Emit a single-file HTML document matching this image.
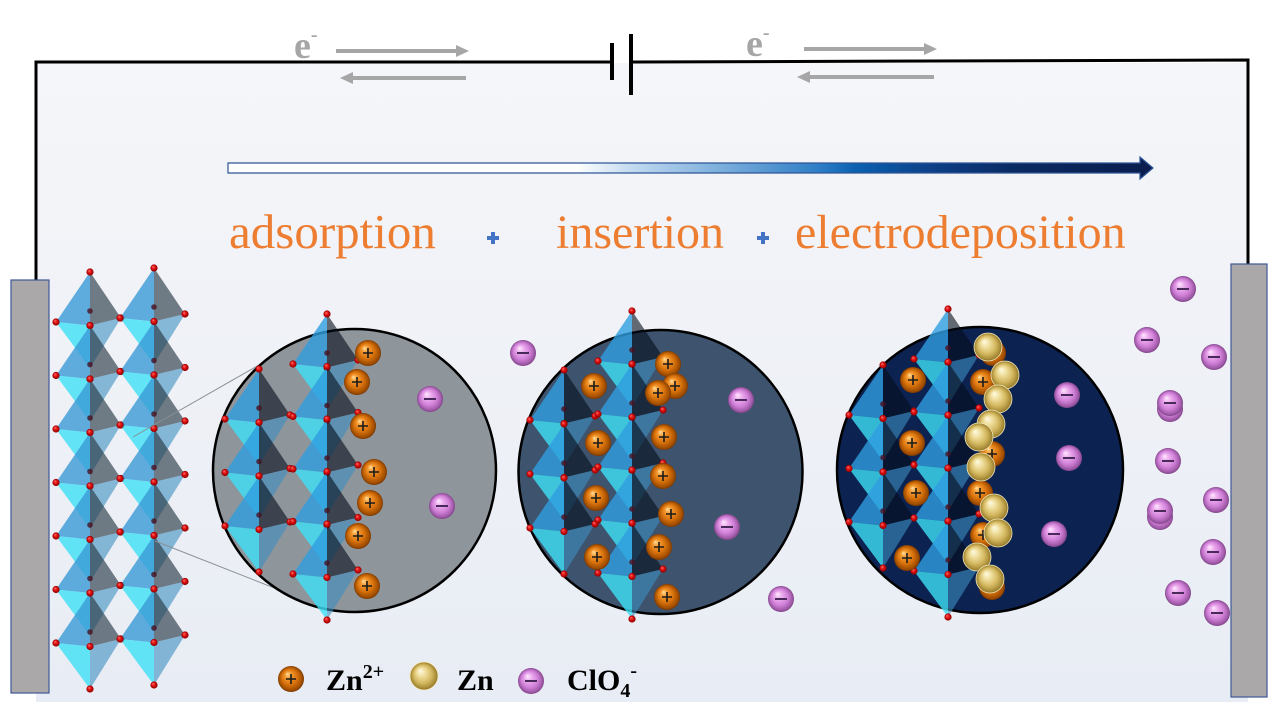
<!DOCTYPE html>
<html><head><meta charset="utf-8"><style>
html,body{margin:0;padding:0;background:#fff;}
svg{display:block;}
</style></head><body>
<svg width="1269" height="719" viewBox="0 0 1269 719" xmlns="http://www.w3.org/2000/svg">
<defs>
<linearGradient id="bg" x1="0" y1="0" x2="0" y2="1">
<stop offset="0" stop-color="#f5f6f9"/><stop offset="1" stop-color="#e8ecf4"/>
</linearGradient>
<linearGradient id="arr" x1="0" y1="0" x2="1" y2="0">
<stop offset="0" stop-color="#ffffff"/><stop offset="0.376" stop-color="#ffffff"/>
<stop offset="0.444" stop-color="#bcd6ee"/><stop offset="0.551" stop-color="#6fa6d8"/>
<stop offset="0.637" stop-color="#2f7fc6"/><stop offset="0.679" stop-color="#0a60b0"/>
<stop offset="0.764" stop-color="#0d3f86"/><stop offset="0.85" stop-color="#0a2a62"/>
<stop offset="1" stop-color="#0a1c4c"/>
</linearGradient>
<radialGradient id="gOr" cx="0.5" cy="0.5" r="0.5" fx="0.36" fy="0.3">
<stop offset="0" stop-color="#ffe0a0"/><stop offset="0.25" stop-color="#f59a30"/>
<stop offset="0.6" stop-color="#d8720c"/><stop offset="0.9" stop-color="#a04d00"/>
<stop offset="1" stop-color="#7a3800"/>
</radialGradient>
<radialGradient id="gAu" cx="0.5" cy="0.5" r="0.5" fx="0.36" fy="0.3">
<stop offset="0" stop-color="#fffbe6"/><stop offset="0.3" stop-color="#f0e0a0"/>
<stop offset="0.65" stop-color="#d4b860"/><stop offset="0.9" stop-color="#a88c38"/>
<stop offset="1" stop-color="#8a7028"/>
</radialGradient>
<radialGradient id="gPk" cx="0.5" cy="0.5" r="0.5" fx="0.36" fy="0.3">
<stop offset="0" stop-color="#fdeafd"/><stop offset="0.3" stop-color="#ecaaee"/>
<stop offset="0.65" stop-color="#cf7fd6"/><stop offset="0.9" stop-color="#a05aa8"/>
<stop offset="1" stop-color="#804488"/>
</radialGradient>
<radialGradient id="gRed" cx="0.5" cy="0.5" r="0.5" fx="0.35" fy="0.3">
<stop offset="0" stop-color="#ff7070"/><stop offset="0.5" stop-color="#e01010"/>
<stop offset="1" stop-color="#8a0000"/>
</radialGradient>
<g id="dot"><circle r="3.6" fill="url(#gRed)"/></g>
<g id="oct">
<polygon points="0,0 -34,50 0,53.5" fill="#3a9ad6" fill-opacity="0.8"/>
<polygon points="0,0 0,53.5 31,46" fill="#2a3a46" fill-opacity="0.65"/>
<polygon points="-34,50 0,53.5 0,96" fill="#3fe0f6" fill-opacity="0.8"/>
<polygon points="0,53.5 31,46 0,96" fill="#3d8fbf" fill-opacity="0.6"/>
<circle cx="0" cy="39" r="2.8" fill="#4a1020" fill-opacity="0.8"/>
<circle cx="0" cy="0" r="3.6" fill="url(#gRed)"/>
<circle cx="-34" cy="50" r="3.6" fill="url(#gRed)"/>
<circle cx="31" cy="46" r="3.6" fill="url(#gRed)"/>
<circle cx="0" cy="53.5" r="3.6" fill="url(#gRed)"/>
</g>
<g id="octc">
<polygon points="0,0 -34,50 0,53.5" fill="#2f9ee0" fill-opacity="0.8"/>
<polygon points="0,0 0,53.5 31,46" fill="#050d1a" fill-opacity="0.6"/>
<polygon points="-34,50 0,53.5 0,96" fill="#3fe0f6" fill-opacity="0.8"/>
<polygon points="0,53.5 31,46 0,96" fill="#3d8fbf" fill-opacity="0.6"/>
<circle cx="0" cy="39" r="2.8" fill="#4a1020" fill-opacity="0.8"/>
<circle cx="0" cy="0" r="3.6" fill="url(#gRed)"/>
<circle cx="-34" cy="50" r="3.6" fill="url(#gRed)"/>
<circle cx="31" cy="46" r="3.6" fill="url(#gRed)"/>
<circle cx="0" cy="53.5" r="3.6" fill="url(#gRed)"/>
</g>
<g id="zp"><circle r="13" fill="url(#gOr)"/><path d="M-5,0H5M0,-5V5" stroke="#1a1a1a" stroke-width="1.6"/></g>
<g id="zn"><circle r="14" fill="url(#gAu)" stroke="#f4eab8" stroke-width="0.8"/></g>
<g id="cl"><circle r="13" fill="url(#gPk)"/><path d="M-6,0H6" stroke="#4a2a5a" stroke-width="2"/></g>
</defs>

<!-- background panel -->
<rect x="36" y="63" width="1212" height="639" fill="url(#bg)"/>

<!-- circuit wires -->
<path d="M36,282 V62 H612" fill="none" stroke="#000" stroke-width="3"/>
<path d="M631,62 L1248,60 V265" fill="none" stroke="#000" stroke-width="3"/>
<line x1="612" y1="43" x2="612" y2="80" stroke="#000" stroke-width="4"/>
<line x1="631" y1="34" x2="631" y2="95" stroke="#000" stroke-width="4"/>

<!-- electrons -->
<g fill="#a6a6a6" font-family="Liberation Serif, serif" font-weight="bold" font-size="38">
<text x="294" y="58">e<tspan font-size="20" dy="-17">-</tspan></text>
<text x="746" y="56">e<tspan font-size="20" dy="-17">-</tspan></text>
</g>
<g stroke="#a6a6a6" stroke-width="4" fill="#a6a6a6">
<line x1="336" y1="51" x2="458" y2="51"/><polygon stroke="none" points="456,45 469,51 456,57"/>
<line x1="352" y1="78" x2="466" y2="78"/><polygon stroke="none" points="353,72 340,78 353,84"/>
<line x1="804" y1="49" x2="926" y2="49"/><polygon stroke="none" points="924,43 937,49 924,55"/>
<line x1="809" y1="77" x2="934" y2="77"/><polygon stroke="none" points="810,71 797,77 810,83"/>
</g>

<!-- gradient arrow -->
<polygon points="228,163 1140,163 1140,157 1153,168 1140,179 1140,173 228,173" fill="url(#arr)" stroke="#2f5597" stroke-width="1.2"/>

<!-- process labels -->
<g font-family="Liberation Serif, serif" fill="#ED7D31">
<text x="229" y="248" font-size="49">adsorption</text>
<text x="556" y="248" font-size="48">insertion</text>
<text x="795" y="248" font-size="48">electrodeposition</text>
</g>
<path d="M487,238H499M493,232V244" stroke="#4472C4" stroke-width="4"/>
<path d="M757,238H769M763,232V244" stroke="#4472C4" stroke-width="4"/>

<!-- electrodes -->
<rect x="11" y="280" width="38" height="413" fill="#aaa8a8" stroke="#3f5896" stroke-width="1.2"/>
<rect x="1231" y="264" width="36" height="433" fill="#aaa8a8" stroke="#3f5896" stroke-width="1.2"/>

<!-- left structure -->
<use href="#oct" x="90" y="272"/><use href="#oct" x="90" y="325.5"/><use href="#oct" x="90" y="379"/>
<use href="#oct" x="90" y="432.5"/><use href="#oct" x="90" y="486"/><use href="#oct" x="90" y="539.5"/>
<use href="#oct" x="90" y="593"/><use href="#dot" x="90" y="689"/>
<use href="#oct" x="154" y="268"/><use href="#oct" x="154" y="321.5"/><use href="#oct" x="154" y="375"/>
<use href="#oct" x="154" y="428.5"/><use href="#oct" x="154" y="482"/><use href="#oct" x="154" y="535.5"/>
<use href="#oct" x="154" y="589"/><use href="#dot" x="154" y="685"/>

<!-- zoom lines -->
<line x1="133" y1="437" x2="266" y2="361" stroke="#8a8f96" stroke-width="1"/>
<line x1="155" y1="541" x2="287" y2="593" stroke="#8a8f96" stroke-width="1"/>

<!-- circle 1 -->
<circle cx="354.5" cy="470.5" r="141.5" fill="#8e959b" stroke="#000" stroke-width="2.5"/>
<use href="#octc" x="259" y="369"/><use href="#octc" x="259" y="422.5"/><use href="#octc" x="259" y="476"/>
<use href="#dot" x="259" y="572"/>
<use href="#octc" x="327" y="314"/><use href="#octc" x="327" y="366.5"/><use href="#octc" x="327" y="419"/>
<use href="#octc" x="327" y="471.5"/><use href="#octc" x="327" y="524"/><use href="#dot" x="327" y="620"/>
<use href="#zp" x="368" y="353"/><use href="#zp" x="357" y="382"/><use href="#zp" x="363" y="426"/>
<use href="#zp" x="374" y="472"/><use href="#zp" x="370" y="503"/><use href="#zp" x="358" y="536"/>
<use href="#zp" x="367" y="586"/>
<use href="#cl" x="430" y="399"/><use href="#cl" x="442" y="506"/>

<!-- between -->
<use href="#cl" x="523" y="353"/>

<!-- circle 2 -->
<circle cx="660.5" cy="472" r="142" fill="#3e546e" stroke="#000" stroke-width="2.5"/>
<use href="#octc" x="564" y="370"/><use href="#octc" x="564" y="424"/><use href="#octc" x="564" y="478"/>
<use href="#dot" x="564" y="574"/>
<use href="#octc" x="632" y="311"/><use href="#octc" x="632" y="364"/><use href="#octc" x="632" y="417"/>
<use href="#octc" x="632" y="470"/><use href="#octc" x="632" y="523"/><use href="#dot" x="632" y="619"/>
<use href="#zp" x="668" y="364"/><use href="#zp" x="675" y="386"/><use href="#zp" x="658" y="393"/>
<use href="#zp" x="594" y="386"/><use href="#zp" x="598" y="443"/><use href="#zp" x="664" y="437"/>
<use href="#zp" x="663" y="476"/><use href="#zp" x="596" y="498"/><use href="#zp" x="671" y="514"/>
<use href="#zp" x="659" y="547"/><use href="#zp" x="597" y="557"/><use href="#zp" x="667" y="597"/>
<use href="#cl" x="741" y="400"/><use href="#cl" x="727" y="527"/>
<use href="#cl" x="781" y="599"/>

<!-- circle 3 -->
<circle cx="980" cy="470" r="143" fill="#0c2250" stroke="#000" stroke-width="2.5"/>
<use href="#octc" x="883" y="365"/><use href="#octc" x="883" y="418.5"/><use href="#octc" x="883" y="472"/>
<use href="#dot" x="883" y="568"/>
<use href="#octc" x="948" y="309"/><use href="#octc" x="948" y="362"/><use href="#octc" x="948" y="415"/>
<use href="#octc" x="948" y="468"/><use href="#octc" x="948" y="521"/><use href="#dot" x="948" y="617"/>
<use href="#zp" x="993" y="353"/><use href="#zp" x="913" y="380"/><use href="#zp" x="983" y="382"/>
<use href="#zp" x="912" y="443"/><use href="#zp" x="992" y="454"/><use href="#zp" x="916" y="493"/>
<use href="#zp" x="980" y="493"/><use href="#zp" x="983" y="535"/><use href="#zp" x="907" y="558"/>
<use href="#zp" x="992" y="587"/>
<use href="#zn" x="988" y="347"/><use href="#zn" x="1005" y="375"/><use href="#zn" x="998" y="399"/>
<use href="#zn" x="991" y="424"/><use href="#zn" x="979" y="437"/><use href="#zn" x="981" y="467"/>
<use href="#zn" x="994" y="508"/><use href="#zn" x="998" y="533"/><use href="#zn" x="977" y="557"/>
<use href="#zn" x="990" y="579"/>
<use href="#cl" x="1067" y="395"/><use href="#cl" x="1069" y="458"/><use href="#cl" x="1054" y="534"/>

<!-- right side anions -->
<use href="#cl" x="1183" y="289"/><use href="#cl" x="1147" y="340"/><use href="#cl" x="1214" y="357"/>
<use href="#cl" x="1170" y="409"/><use href="#cl" x="1170" y="403"/>
<use href="#cl" x="1168" y="461"/><use href="#cl" x="1216" y="500"/>
<use href="#cl" x="1160" y="517"/><use href="#cl" x="1160" y="511"/>
<use href="#cl" x="1213" y="552"/><use href="#cl" x="1178" y="593"/><use href="#cl" x="1217" y="613"/>

<!-- legend -->
<use href="#zp" x="291" y="679"/>
<use href="#zn" x="424" y="676"/>
<use href="#cl" x="531" y="681"/>
<g font-family="Liberation Serif, serif" font-weight="bold" font-size="30" fill="#000">
<text x="326" y="690">Zn<tspan font-size="20" dy="-12">2+</tspan></text>
<text x="457" y="690">Zn</text>
<text x="567" y="690">ClO<tspan font-size="20" dy="7">4</tspan><tspan font-size="20" dy="-20">-</tspan></text>
</g>
</svg>
</body></html>
